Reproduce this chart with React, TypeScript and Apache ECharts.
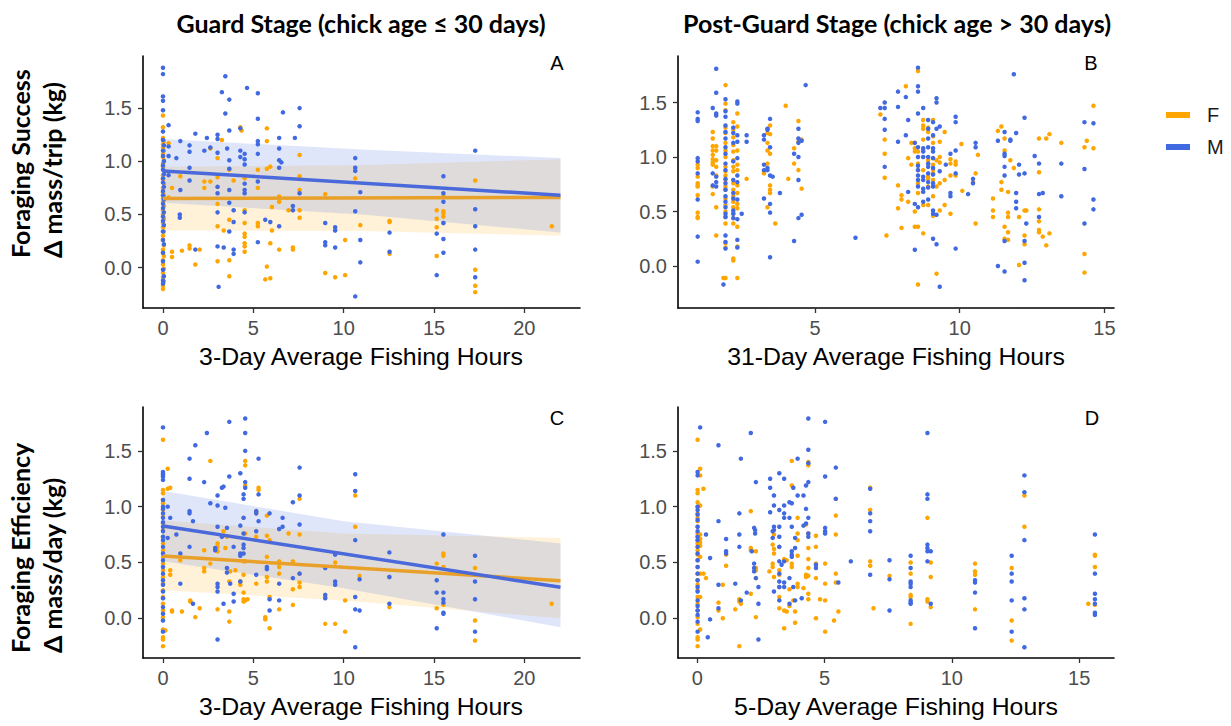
import React, { useEffect, useRef } from "react";
import * as echarts from "echarts";

// ---------- tick values ----------
const xTicksGuard = [0, 5, 10, 15, 20];
const xTicksB = [5, 10, 15];
const xTicksD = [0, 5, 10, 15];
const yTicks = [0, 0.5, 1.0, 1.5];

// ---------- Panel A: Foraging success vs 3-day fishing hours (guard) ----------
const A_M = [
  [0,1.88],[0,1.82],[0,1.61],[0,1.57],[0,1.48],[0,1.28],[0,1.20],[0.05,1.15],[0,1.10],[0,1.05],[0.05,1.00],[0,0.96],[0,0.92],[0.05,0.88],[0,0.84],[0,0.80],[0.05,0.76],[0,0.72],[0,0.68],[0.05,0.64],[0,0.60],[0,0.56],[0.05,0.52],[0,0.48],[0,0.44],[0.05,0.40],[0,0.34],[0,0.26],[0.05,0.22],[0,0.14],[0,0.06],[0,-0.02],[0.05,-0.08],[0,-0.12],[0,-0.15],
  [0.31,1.34],[0.31,1.14],[0.31,1.05],[0.31,0.87],[0.74,1.03],[0.96,1.19],[0.96,0.73],[0.93,0.5],[0.93,0.47],
  [1.47,1.15],[1.47,1.09],[1.47,0.94],[1.47,0.82],[1.79,1.26],[1.79,0.17],[2.29,1.1],[2.43,1.22],[2.62,1.13],[3.08,-0.18],
  [3.02,1.25],[3.02,1.21],[3.02,1.08],[3.02,0.76],[3.02,0.70],[3.02,0.52],[3.02,0.2],[3.26,1.65],[3.36,0.19],[3.45,1.8],[3.45,1.45],[3.55,1.12],
  [3.67,1.58],[3.67,1.29],[3.67,1.01],[3.67,0.93],[3.67,0.73],[3.67,0.61],[3.67,0.34],[3.91,0.54],[3.91,0.43],[3.91,0.17],[3.91,0.13],
  [4.28,1.31],[4.28,1.1],[4.28,1.04],[4.52,1.07],[4.52,1.02],[4.52,0.97],[4.52,0.79],[4.52,0.73],[4.52,0.7],[4.52,0.52],[4.65,1.69],
  [5.25,1.64],[5.25,1.4],[5.25,1.19],[5.25,1.16],[5.25,1.07],[5.25,0.81],[5.25,0.24],[5.66,0.45],[5.94,0.43],
  [6.43,1.22],[6.43,1.12],[6.43,1.01],[6.43,0.94],[6.43,0.39],[6.55,0.99],[6.64,1.46],[7.19,0.58],[7.19,0.54],[7.3,1.22],
  [7.56,1.5],[7.56,1.33],[7.56,0.7],[8.98,0.42],[8.98,0.24],[8.98,0.21],[9.53,0.38],[9.53,0.35],[9.53,0.19],
  [10.64,1.03],[10.64,0.94],[10.64,0.91],[10.64,0.53],[10.64,-0.27],[10.92,0.71],[10.92,0.26],[10.92,0.05],
  [12.54,0.33],[12.54,0.15],[15.15,0.32],[15.15,-0.07],[15.52,0.86],[15.52,0.7],[15.52,0.62],[15.52,0.42],[15.52,0.27],[15.52,0.14],
  [17.28,1.1],[17.28,0.55],[17.28,0.39],[17.28,0.17],[17.28,-0.09],
];
const A_F = [
  [0,1.43],[0,1.32],[0,1.22],[0.05,1.19],[0,1.16],[0,1.13],[0.05,1.10],[0,1.07],[0,1.04],[0.05,1.01],[0,0.98],[0,0.95],[0.05,0.91],[0,0.87],[0,0.83],[0.05,0.79],[0,0.75],[0,0.71],[0.05,0.68],[0,0.65],[0,0.62],[0.05,0.58],[0,0.54],[0,0.50],[0.05,0.46],[0,0.42],[0,0.38],[0.05,0.34],[0,0.30],[0,0.26],[0.05,0.21],[0,0.17],[0,0.14],[0.05,0.11],[0,0.07],[0,0.03],[0.05,-0.01],[0,-0.05],[0,-0.09],[0.05,-0.13],[0,-0.17],[0,-0.20],
  [0.31,1.17],[0.31,0.66],[0.5,0.75],[0.5,0.15],[0.5,0.1],[0.96,0.86],[1.05,0.16],[1.47,0.21],[1.47,0.18],[1.79,0.03],[2.03,0.17],
  [2.29,0.81],[2.29,0.75],[2.62,0.81],[2.62,1.12],[3.02,1.03],[3.02,0.85],[3.02,0.76],[3.02,0.6],[3.02,0.39],[3.02,0.06],[3.26,1.2],[3.36,0.35],
  [3.67,0.92],[3.67,0.45],[3.67,0.07],[3.67,-0.08],[3.91,0.82],[4.28,1.32],[4.35,1.29],
  [4.52,0.84],[4.52,0.54],[4.52,0.42],[4.52,0.32],[4.52,0.29],[4.52,0.23],[4.52,0.2],[4.52,0.15],
  [5.25,0.92],[5.25,0.75],[5.25,0.42],[5.25,0.39],[5.66,-0.11],[5.75,1.31],[5.75,1.19],[5.75,0.93],[5.75,0.01],
  [5.94,0.95],[5.94,0.23],[5.94,-0.1],[6.03,0.57],[6.03,0.35],[6.43,0.67],[6.43,0.62],[6.43,0.17],[6.95,0.54],[7.19,0.19],[7.19,0.17],
  [7.56,1.06],[7.56,0.86],[7.56,0.73],[7.56,0.54],[7.56,0.47],[8.98,0.69],[8.98,-0.05],[9.53,-0.09],[10.08,0.26],[10.08,-0.07],
  [10.64,0.84],[10.92,0.4],[12.54,0.44],[12.54,0.43],[12.54,0.13],[15.15,0.54],[15.15,0.46],[15.15,0.38],[15.15,0.11],
  [15.52,0.67],[15.52,0.53],[15.52,0.51],[15.52,0.48],[15.52,0.42],[17.28,0.82],[17.28,-0.02],[17.28,-0.17],[17.28,-0.23],[21.52,0.39],
];

// ---------- Panel B: Foraging success vs 31-day fishing hours (post-guard) ----------
const B_M = [
  [0.95,1.41],[0.95,1.35],[0.95,1.33],[0.95,0.99],[0.95,0.96],[0.95,0.85],[0.95,0.61],[0.95,0.27],[0.95,0.04],
  [1.47,1.45],[1.47,0.85],[1.47,0.74],[1.59,1.81],[1.59,1.59],[1.59,1.4],[1.59,1.38],[1.59,0.82],[1.59,0.77],[1.59,0.73],[1.84,-0.17],
  [1.91,1.53],[1.91,1.42],[1.91,1.37],[1.91,1.29],[1.91,1.23],[1.91,1.17],[1.91,1.09],[1.91,1.03],[1.91,0.94],[1.91,0.88],[1.91,0.8],[1.91,0.76],[1.91,0.7],[1.91,0.64],[1.91,0.59],[1.91,0.54],[1.91,0.48],[1.91,0.45],[1.91,0.28],[1.91,0.22],[1.91,0.16],
  [2.18,1.27],[2.18,1.22],[2.18,1.13],[2.18,0.96],[2.18,0.79],[2.18,0.67],[2.18,0.62],[2.18,0.51],[2.18,0.48],[2.18,0.44],
  [2.32,1.51],[2.32,1.49],[2.32,1.2],[2.32,1.14],[2.32,0.99],[2.32,0.83],[2.32,0.77],[2.32,0.61],[2.32,0.43],[2.32,0.24],[2.32,0.17],
  [2.47,0.48],[2.64,1.2],[2.64,1.14],[3.24,1.2],[3.24,1.16],[3.24,0.93],[3.24,0.88],[3.24,0.62],[3.36,1.26],[3.36,1.25],[3.36,0.9],[3.36,0.88],
  [3.45,1.35],[3.45,1.09],[3.45,0.83],[3.45,0.57],[3.45,0.49],[3.45,0.08],[3.54,0.82],[3.79,0.67],[4.28,0.23],[4.28,1.03],
  [4.43,1.26],[4.43,1.17],[4.43,1.13],[4.43,1.0],[4.43,0.79],[4.43,0.44],[4.54,0.47],[4.54,1.15],[4.68,1.66],[6.4,0.26],
  [7.26,1.45],[7.41,1.5],[7.41,1.45],[7.41,1.35],[7.41,1.25],[7.41,0.91],[7.87,1.6],[7.87,1.46],[7.87,1.14],[8.14,1.55],[8.14,1.2],
  [8.22,1.34],[8.22,0.68],[8.45,1.13],[8.45,0.57],[8.45,0.15],
  [8.56,1.82],[8.56,1.65],[8.56,1.6],[8.56,1.4],[8.56,1.09],[8.56,1.0],[8.56,0.92],[8.56,0.88],[8.56,0.83],[8.56,0.79],[8.56,0.73],[8.56,0.54],
  [8.74,1.45],[8.74,1.08],[8.74,1.05],[8.74,1.0],[8.74,0.82],[8.74,0.79],[8.74,0.71],[8.74,0.68],[8.74,0.59],
  [8.91,1.34],[8.91,1.26],[8.91,1.17],[8.91,1.09],[8.91,1.0],[8.91,0.94],[8.91,0.91],[8.91,0.85],[8.91,0.77],[8.91,0.72],[8.91,0.61],
  [9.08,1.32],[9.08,1.2],[9.08,1.08],[9.08,1.05],[9.08,0.99],[9.08,0.9],[9.08,0.84],[9.08,0.76],[9.08,0.73],[9.08,0.51],[9.08,0.48],[9.08,0.25],
  [9.2,1.54],[9.2,1.5],[9.2,1.26],[9.2,0.47],[9.2,0.2],[9.31,1.28],[9.31,0.87],[9.31,-0.19],[9.52,0.93],[9.68,1.03],[9.68,0.67],[9.68,0.64],
  [9.86,1.37],[9.86,1.32],[9.86,1.06],[9.86,0.85],[9.86,0.16],[10.29,0.66],[10.46,0.8],[10.46,0.76],[10.55,1.13],[10.55,1.09],
  [11.32,0.0],[11.32,1.15],[11.55,1.23],[11.55,1.03],[11.55,1.01],[11.55,0.91],[11.55,0.83],[11.55,0.23],[11.55,-0.05],
  [11.75,1.16],[11.75,1.15],[11.87,1.76],[11.95,1.22],[11.95,0.67],[11.95,0.59],[11.95,0.53],[12.05,0.93],[12.05,0.84],
  [12.24,1.36],[12.24,0.85],[12.24,0.23],[12.24,0.03],[12.24,-0.13],[12.3,0.39],[12.59,1.01],[12.74,0.94],[12.74,0.66],[12.74,0.45],[12.87,0.67],
  [13.51,0.94],[13.51,0.64],[14.31,1.32],[14.31,0.89],[14.31,0.39],[14.62,1.31],[14.62,0.61],[14.62,0.52],
];
const B_F = [
  [0.95,0.93],[0.95,0.9],[0.95,0.82],[0.95,0.76],[0.95,0.74],[0.95,0.73],[0.95,0.65],[0.95,0.49],[0.95,0.45],[0.95,0.44],
  [1.47,1.23],[1.47,1.17],[1.47,1.1],[1.47,1.06],[1.47,1.02],[1.47,0.98],[1.47,0.95],[1.47,0.93],[1.47,0.73],[1.47,0.66],
  [1.59,1.1],[1.59,1.06],[1.59,0.97],[1.59,0.91],[1.59,0.83],[1.59,0.54],[1.59,0.28],[1.84,-0.11],
  [1.91,1.66],[1.91,1.49],[1.91,1.43],[1.91,1.27],[1.91,1.22],[1.91,1.13],[1.91,1.06],[1.91,1.0],[1.91,0.91],[1.91,0.87],[1.91,0.83],[1.91,0.79],[1.91,0.73],[1.91,0.7],[1.91,0.62],[1.91,0.56],[1.91,0.5],[1.91,0.45],[1.91,0.39],[1.91,0.21],[1.91,0.17],[1.91,-0.11],
  [2.18,1.32],[2.18,1.25],[2.18,1.18],[2.18,1.11],[2.18,1.05],[2.18,0.97],[2.18,0.91],[2.18,0.87],[2.18,0.76],[2.18,0.7],[2.18,0.64],[2.18,0.59],[2.18,0.54],[2.18,0.48],[2.18,0.44],[2.18,0.39],[2.18,0.07],[2.18,0.05],
  [2.32,1.4],[2.32,1.28],[2.32,1.06],[2.32,0.93],[2.32,0.88],[2.32,0.74],[2.32,0.67],[2.32,0.57],[2.32,0.53],[2.32,0.36],[2.32,0.18],[2.32,-0.11],
  [2.64,0.8],[3.24,0.87],[3.24,0.85],[3.36,1.22],[3.36,1.13],[3.36,1.06],[3.36,0.94],[3.36,0.54],
  [3.45,1.29],[3.45,1.21],[3.45,1.03],[3.45,0.74],[3.45,0.7],[3.45,0.67],[3.63,0.39],[3.99,1.47],[4.08,0.8],[4.28,1.08],[4.28,0.94],
  [4.43,1.33],[4.43,1.14],[4.43,0.88],[4.54,1.16],[4.54,0.71],[7.26,1.39],[7.41,1.16],[7.41,1.03],[7.41,0.81],[7.47,0.28],
  [7.87,0.74],[7.87,0.53],[7.99,0.65],[7.99,0.61],[7.99,0.35],[8.14,1.65],[8.22,0.99],[8.22,0.59],[8.33,1.13],[8.33,0.93],
  [8.45,1.13],[8.45,1.08],[8.45,1.05],[8.45,0.5],[8.45,0.36],[8.56,1.79],[8.56,1.05],[8.56,0.94],[8.56,0.88],[8.56,0.76],[8.56,0.67],[8.56,0.36],[8.56,-0.17],
  [8.74,1.34],[8.74,1.29],[8.74,1.26],[8.74,1.16],[8.74,1.06],[8.74,0.88],[8.74,0.56],[8.74,0.3],
  [8.91,1.27],[8.91,1.23],[8.91,0.97],[8.91,0.94],[8.91,0.82],[8.91,0.8],[8.91,0.73],[8.91,0.56],
  [9.08,1.34],[9.08,1.19],[9.08,1.13],[9.08,0.99],[9.08,0.93],[9.08,0.88],[9.08,0.85],[9.08,0.79],[9.08,0.64],[9.08,0.46],
  [9.2,0.97],[9.2,0.73],[9.2,-0.07],[9.31,1.14],[9.31,1.0],[9.31,0.95],[9.31,0.76],[9.31,0.51],[9.48,1.23],[9.48,0.79],[9.48,0.56],
  [9.68,0.98],[9.68,0.94],[9.68,0.83],[9.68,0.48],[9.86,0.96],[9.86,0.93],[9.86,0.83],[10.06,1.12],[10.09,0.69],[10.46,0.77],
  [10.55,0.85],[10.55,0.39],[10.63,1.02],[11.15,0.62],[11.15,0.51],[11.15,0.45],[11.32,1.24],[11.44,1.28],[11.44,0.77],[11.44,0.7],
  [11.55,1.17],[11.55,1.06],[11.55,0.36],[11.55,0.25],[11.67,0.68],[11.67,0.49],[11.67,0.45],[11.67,0.31],[11.67,0.24],[11.75,0.97],[11.87,0.9],
  [12.05,0.45],[12.05,0.01],[12.24,0.51],[12.24,0.28],[12.24,0.2],[12.3,0.51],
  [12.74,1.17],[12.74,0.86],[12.74,0.52],[12.74,0.41],[12.74,0.33],[12.74,0.31],[12.87,0.27],[12.99,1.17],[12.99,0.19],[13.1,1.21],[13.1,0.3],
  [13.51,1.13],[14.31,1.09],[14.31,0.11],[14.31,-0.06],[14.39,1.15],[14.62,1.47],[14.62,1.08],
];

// ---------- Panel C: Foraging efficiency vs 3-day fishing hours (guard) ----------
const C_M = [
  [0,1.71],[0,1.31],[0,1.29],[0,1.27],[0,1.24],[0,1.06],[0,1.0],[0,0.98],[0,0.94],[0,0.9],[0,0.86],[0,0.82],[0,0.78],[0,0.73],[0,0.7],[0,0.64],[0,0.58],[0,0.52],[0,0.46],[0,0.4],[0,0.34],[0,0.3],[0,0.24],[0,0.18],[0,0.1],[0,0.04],[0,-0.02],[0,-0.12],
  [0.26,1.0],[0.26,0.72],[0.4,0.9],[0.74,0.75],[0.96,0.58],[0.96,0.31],[1.47,1.43],[1.47,1.25],[1.47,0.96],[1.47,0.94],[1.47,0.64],
  [1.66,0.87],[1.66,0.13],[1.79,1.55],[2.28,1.22],[2.43,1.66],[2.62,1.03],[2.89,0.63],[2.89,0.61],
  [3.02,1.1],[3.02,1.01],[3.02,0.82],[3.02,0.31],[3.02,0.28],[3.02,0.24],[3.02,-0.19],[3.26,1.17],[3.26,0.73],[3.35,1.18],[3.35,0.13],[3.45,0.99],
  [3.54,0.81],[3.54,0.45],[3.54,0.41],[3.67,1.76],[3.67,1.27],[3.72,0.31],[3.91,0.64],[3.91,0.22],[3.91,0.15],
  [4.28,1.3],[4.28,0.83],[4.28,0.58],[4.28,0.56],[4.28,0.33],[4.46,1.11],[4.46,1.07],[4.46,0.9],[4.46,0.76],[4.46,0.66],[4.46,0.63],[4.46,0.58],
  [4.55,1.79],[4.55,1.66],[4.55,1.5],[4.55,1.22],[4.55,1.17],[5.16,0.96],[5.16,0.94],[5.16,0.78],[5.16,0.39],[5.29,1.43],[5.29,1.11],[5.29,0.87],
  [5.75,0.46],[5.75,0.44],[5.9,0.94],[5.9,0.17],[5.9,0.07],[6.43,0.8],[6.43,0.31],[6.43,0.16],[6.62,0.9],[6.62,0.82],[7.19,1.04],[7.19,0.36],
  [7.56,1.35],[7.56,1.1],[7.56,0.84],[7.56,0.4],[8.98,0.45],[8.98,0.21],[8.98,0.18],[9.53,0.57],[9.53,0.33],[9.53,0.3],
  [10.64,1.29],[10.64,1.14],[10.64,0.7],[10.64,0.19],[10.64,0.08],[10.64,-0.26],[10.88,0.35],[10.88,0.07],[12.53,0.59],[12.53,0.37],[12.53,0.13],
  [15.15,0.34],[15.15,0.23],[15.15,-0.09],[15.52,0.75],[15.52,0.23],[15.52,0.17],[15.52,0.14],[15.52,0.05],[15.52,0.04],
  [17.27,0.56],[17.27,0.33],[17.27,0.17],[17.27,-0.12],
];
const C_F = [
  [0,1.6],[0,1.15],[0,1.12],[0,1.06],[0,1.03],[0,0.97],[0,0.91],[0,0.85],[0,0.79],[0,0.73],[0,0.67],[0,0.61],[0,0.55],[0,0.49],[0,0.43],[0,0.37],[0,0.31],[0,0.25],[0,0.19],[0,0.13],[0,0.07],[0,0.01],[0,-0.1],[0,-0.17],[0,-0.19],[0,-0.25],
  [0.13,-0.11],[0.26,1.34],[0.26,1.16],[0.4,1.17],[0.4,0.43],[0.4,0.39],[0.5,0.07],[0.5,0.06],[0.96,0.52],[1.05,0.06],[1.51,0.16],[1.51,0.15],
  [1.79,0.01],[2.03,0.09],[2.28,0.61],[2.28,0.45],[2.28,0.42],[2.62,1.41],[2.62,0.49],[3.02,0.67],[3.02,0.64],[3.02,0.6],[3.02,0.08],
  [3.35,0.78],[3.45,0.63],[3.54,0.73],[3.67,0.33],[3.67,0.06],[3.67,-0.03],[3.72,0.42],[4.0,0.43],[4.28,0.33],[4.28,0.3],
  [4.46,0.9],[4.46,0.51],[4.46,0.39],[4.46,0.23],[4.46,0.17],[4.46,0.15],[4.55,1.41],[4.55,1.37],[4.55,1.19],[4.55,0.76],[4.55,0.51],[4.55,0.16],[4.68,0.17],
  [5.16,0.96],[5.16,0.94],[5.16,0.73],[5.16,0.31],[5.29,1.17],[5.29,1.15],[5.66,-0.01],[5.66,0.01],
  [5.75,0.92],[5.75,0.74],[5.75,0.55],[5.75,0.37],[5.75,0.33],[5.9,0.7],[5.9,0.19],[5.9,-0.09],[6.43,0.51],[6.43,0.46],[6.43,0.4],[6.43,0.08],
  [6.95,0.76],[7.19,0.51],[7.19,0.26],[7.19,0.12],[7.56,1.07],[7.56,0.75],[7.56,0.4],[7.56,0.32],[7.56,0.28],[8.98,0.19],[8.98,-0.05],
  [9.53,0.5],[9.53,-0.05],[10.08,0.16],[10.08,-0.12],[10.64,1.1],[10.64,0.82],[10.88,0.38],[12.53,0.37],[12.53,0.1],
  [15.15,0.49],[15.15,0.09],[15.52,0.58],[15.52,0.56],[15.52,0.46],[15.52,0.12],[17.27,0.45],[17.27,-0.02],[17.27,-0.2],[21.51,0.13],
];

// ---------- Panel D: Foraging efficiency vs 5-day fishing hours (post-guard) ----------
const D_M = [
  [0.01,1.31],[0.01,1.28],[0.01,1.0],[0.01,0.97],[0.01,0.93],[0.01,0.88],[0.01,0.82],[0.01,0.78],[0.01,0.73],[0.01,0.7],[0.01,0.64],[0.01,0.58],[0.01,0.52],[0.01,0.46],[0.01,0.4],[0.01,0.34],[0.01,0.28],[0.01,0.24],[0.01,0.16],[0.01,0.11],[0.01,0.07],[0.01,0.03],[0.01,-0.03],[0.01,-0.12],
  [0.11,1.71],[0.34,0.75],[0.41,-0.17],[0.5,0.54],[0.5,-0.01],[0.83,1.55],[0.83,0.87],[0.83,0.3],[0.83,0.09],[1.13,0.71],[1.13,0.6],[1.13,0.58],
  [1.49,0.31],[1.65,0.94],[1.65,0.75],[1.65,0.64],[1.71,1.43],[1.71,0.16],[1.94,0.23],[2.1,1.66],[2.14,0.6],
  [2.23,0.81],[2.23,0.49],[2.23,0.45],[2.23,0.42],[2.27,0.79],[2.27,0.76],[2.3,1.22],[2.3,0.36],[2.4,0.28],[2.4,0.13],[2.4,-0.19],
  [2.86,1.25],[2.86,1.17],[2.86,0.95],[2.96,0.78],[2.96,0.72],[3.01,1.1],[3.01,1.01],[3.01,0.82],[3.01,0.79],[3.01,0.24],
  [3.22,1.3],[3.22,0.97],[3.22,0.82],[3.22,0.73],[3.22,0.64],[3.22,0.51],[3.22,0.4],[3.22,0.33],[3.22,0.28],[3.22,0.16],[3.31,0.48],
  [3.41,1.25],[3.41,1.01],[3.41,0.94],[3.41,0.9],[3.41,0.51],[3.41,0.32],[3.41,0.28],[3.62,1.04],[3.62,0.9],[3.62,0.36],[3.62,0.13],
  [3.71,1.03],[3.71,0.82],[3.71,0.6],[3.71,0.57],[3.71,0.55],[3.77,1.17],[3.77,0.28],[3.84,0.72],[3.84,0.63],[3.84,0.16],[3.94,1.43],[3.94,1.1],
  [4.1,0.18],[4.17,1.1],[4.17,0.83],[4.27,1.19],[4.27,0.98],[4.27,0.85],[4.36,1.79],[4.36,1.51],[4.36,1.39],[4.36,1.22],[4.36,0.9],[4.36,0.76],[4.36,0.73],
  [4.66,0.48],[4.66,0.45],[5.02,1.76],[5.02,1.27],[5.02,0.81],[5.02,0.78],[5.02,0.76],[5.44,1.35],[5.44,1.07],[5.54,0.32],[6.03,0.51],
  [6.79,1.16],[6.79,0.94],[6.79,0.87],[6.79,0.78],[6.79,0.39],[7.55,0.52],[7.55,0.35],[7.55,0.07],
  [8.38,0.56],[8.38,0.45],[8.38,0.33],[8.38,0.31],[8.38,0.28],[8.38,0.16],[8.38,0.14],[8.38,0.13],
  [9.04,1.66],[9.04,1.11],[9.04,1.07],[9.04,0.66],[9.04,0.63],[9.04,0.6],[9.04,0.51],[9.17,0.6],[9.17,0.13],
  [10.91,0.34],[10.91,0.32],[10.91,0.23],[10.91,-0.09],[12.35,0.56],[12.35,0.4],[12.35,0.33],[12.35,0.16],[12.35,-0.12],
  [12.85,1.28],[12.85,1.13],[12.85,0.7],[12.85,0.18],[12.85,0.08],[12.85,-0.26],
  [15.62,0.75],[15.62,0.4],[15.62,0.22],[15.62,0.17],[15.62,0.13],[15.62,0.05],[15.62,0.03],
];
const D_F = [
  [0.01,1.6],[0.01,1.15],[0.01,1.12],[0.01,1.04],[0.01,1.0],[0.01,0.94],[0.01,0.9],[0.01,0.87],[0.01,0.82],[0.01,0.76],[0.01,0.73],[0.01,0.7],[0.01,0.67],[0.01,0.64],[0.01,0.61],[0.01,0.57],[0.01,0.52],[0.01,0.46],[0.01,0.4],[0.01,0.34],[0.01,0.3],[0.01,0.25],[0.01,0.19],[0.01,0.13],[0.01,0.07],[0.01,0.01],[0.01,-0.05],[0.01,-0.17],[0.01,-0.19],[0.01,-0.25],
  [0.11,1.34],[0.11,1.28],[0.11,1.01],[0.11,0.75],[0.11,0.71],[0.11,0.68],[0.11,0.65],[0.11,0.55],[0.11,0.4],[0.11,0.19],[0.11,-0.1],
  [0.24,1.16],[0.24,0.4],[0.34,0.36],[0.83,0.14],[0.83,0.07],[1.0,0.3],[1.0,0.0],[1.13,0.57],[1.13,0.47],[1.49,0.08],
  [1.65,0.17],[1.65,0.15],[1.65,-0.25],[1.71,0.13],[2.1,0.96],[2.1,0.63],[2.1,0.61],[2.1,0.22],[2.3,0.6],[2.3,0.45],[2.3,0.43],[2.3,0.36],[2.3,0.01],
  [2.83,0.42],[2.96,0.66],[2.96,0.49],[2.96,0.46],[3.01,0.75],[3.01,0.62],[3.01,0.58],[3.01,0.37],
  [3.22,0.64],[3.22,0.43],[3.22,0.39],[3.22,0.28],[3.22,0.19],[3.22,0.09],[3.41,0.53],[3.41,0.07],[3.41,-0.09],[3.51,0.52],[3.51,0.06],[3.62,0.26],[3.62,0.11],
  [3.71,1.41],[3.71,1.19],[3.71,0.49],[3.71,0.46],[3.77,0.16],[3.84,0.06],[3.84,-0.04],[3.94,0.9],[3.94,0.76],[3.94,0.7],[3.94,0.56],[3.94,0.31],[3.94,0.28],
  [4.17,0.27],[4.27,0.84],[4.27,0.39],[4.27,0.37],[4.36,1.4],[4.36,1.37],[4.36,0.76],[4.36,0.63],[4.36,0.53],[4.36,0.45],[4.36,0.38],[4.36,0.22],[4.36,0.17],
  [4.66,0.74],[4.66,0.64],[4.66,0.49],[4.66,0.36],[4.66,0.0],[4.82,0.17],[5.02,0.49],[5.02,0.31],[5.02,0.16],[5.02,-0.12],[5.37,-0.02],
  [5.44,1.07],[5.44,0.92],[5.44,0.75],[5.44,0.4],[5.44,0.32],[5.54,0.06],[6.79,1.17],[6.79,0.97],[6.79,0.51],[6.79,0.47],[6.92,0.09],[7.55,0.38],
  [8.38,0.5],[8.38,0.4],[8.38,0.21],[8.38,0.19],[8.38,-0.05],[9.04,0.9],[9.04,0.17],[9.04,0.15],[9.17,0.5],[9.17,0.37],[9.17,0.1],
  [10.91,0.49],[10.91,0.42],[10.91,0.39],[10.91,0.08],[12.35,0.45],[12.35,-0.02],[12.35,-0.2],[12.85,1.1],[12.85,0.82],
  [15.36,0.13],[15.62,0.57],[15.62,0.56],[15.62,0.46],[15.62,0.12],
];

// ---------- fitted lines and confidence bands (guard stage panels) ----------
const A_F_fit = [[0, 0.65], [22, 0.66]];
const A_M_fit = [[0, 0.91], [22, 0.68]];
const A_bandX = [0, 11, 22];
const A_F_lo = [0.35, 0.345, 0.30];
const A_F_hi = [0.95, 0.965, 1.02];
const A_M_lo = [0.61, 0.50, 0.33];
const A_M_hi = [1.21, 1.11, 1.03];

const C_F_fit = [[0, 0.558], [22, 0.337]];
const C_M_fit = [[0, 0.827], [22, 0.278]];
const C_bandX = [0, 10, 22];
const C_F_lo = [0.25, 0.16, 0.0];
const C_F_hi = [0.875, 0.76, 0.72];
const C_M_lo = [0.51, 0.27, -0.08];
const C_M_hi = [1.14, 0.87, 0.67];

const ORANGE = "#FFA500";
const BLUE = "#4169E1";
const ORANGE_LINE = "#E9A029";
const BLUE_LINE = "#4A69DA";
const TICK_FONT = "'Liberation Sans', Arial, sans-serif";
const TITLE_FONT = "Lato, 'Open Sans', 'Noto Sans', sans-serif";

export default function App() {
  const ref = useRef<HTMLDivElement>(null);
  useEffect(() => {
    if (!ref.current) return;
    const chart = echarts.init(ref.current, undefined, { renderer: "svg" });

    const panels = [
      { grid: { left: 143, top: 56, width: 437, height: 252 }, xMin: -1.106, xMax: 23.08, xT: xTicksGuard, yMin: -0.379, yMax: 1.99 },
      { grid: { left: 678, top: 56, width: 436, height: 252 }, xMin: 0.27, xMax: 15.33, xT: xTicksB, yMin: -0.385, yMax: 1.927 },
      { grid: { left: 143, top: 407, width: 437, height: 251 }, xMin: -1.106, xMax: 23.08, xT: xTicksGuard, yMin: -0.356, yMax: 1.893 },
      { grid: { left: 678, top: 407, width: 436, height: 251 }, xMin: -0.76, xMax: 16.37, xT: xTicksD, yMin: -0.356, yMax: 1.893 },
    ];

    const axisLine = { show: true, onZero: false, lineStyle: { color: "#000", width: 1.6 } };
    const labelStyle = { color: "#4D4D4D", fontSize: 20, fontFamily: TICK_FONT };

    const xAxis = panels.map((p, i) => ({
      type: "value", gridIndex: i, min: p.xMin, max: p.xMax,
      axisLine, splitLine: { show: false },
      axisTick: { show: true, length: 5, lineStyle: { color: "#333", width: 1.3 }, customValues: p.xT },
      axisLabel: { ...labelStyle, margin: 10, customValues: p.xT, formatter: (v: number) => String(v) },
    }));
    const yAxis = panels.map((p, i) => ({
      type: "value", gridIndex: i, min: p.yMin, max: p.yMax,
      axisLine, splitLine: { show: false },
      axisTick: { show: true, length: 5, lineStyle: { color: "#333", width: 1.3 }, customValues: yTicks },
      axisLabel: { ...labelStyle, margin: 11, customValues: yTicks, formatter: (v: number) => v.toFixed(1) },
    }));

    const scatter = (name: string, data: number[][], idx: number, color: string) => ({
      type: "scatter", name, data, xAxisIndex: idx, yAxisIndex: idx,
      symbolSize: 4.5, itemStyle: { color, opacity: 1 }, silent: true, z: 3,
    });
    const band = (name: string, xs: number[], lo: number[], hi: number[], idx: number, fill: string) => ({
      type: "custom", name, xAxisIndex: idx, yAxisIndex: idx, silent: true, z: 2,
      data: [[xs[0], lo[0]]],
      renderItem: (_params: any, api: any) => {
        const pts: number[][] = [];
        xs.forEach((x, k) => pts.push(api.coord([x, hi[k]])));
        for (let k = xs.length - 1; k >= 0; k--) pts.push(api.coord([xs[k], lo[k]]));
        return { type: "polygon", shape: { points: pts }, style: { fill } };
      },
    });
    const fit = (name: string, data: number[][], idx: number, color: string) => ({
      type: "line", name, data, xAxisIndex: idx, yAxisIndex: idx, showSymbol: false, silent: true, z: 4,
      lineStyle: { color, width: 3.5 }, itemStyle: { color },
    });

    const series: any[] = [
      scatter("F", A_F, 0, ORANGE), scatter("M", A_M, 0, BLUE),
      scatter("F", B_F, 1, ORANGE), scatter("M", B_M, 1, BLUE),
      scatter("F", C_F, 2, ORANGE), scatter("M", C_M, 2, BLUE),
      scatter("F", D_F, 3, ORANGE), scatter("M", D_M, 3, BLUE),
      band("F band A", A_bandX, A_F_lo, A_F_hi, 0, "rgba(255,165,0,0.15)"),
      band("M band A", A_bandX, A_M_lo, A_M_hi, 0, "rgba(65,105,225,0.17)"),
      band("F band C", C_bandX, C_F_lo, C_F_hi, 2, "rgba(255,165,0,0.15)"),
      band("M band C", C_bandX, C_M_lo, C_M_hi, 2, "rgba(65,105,225,0.17)"),
      fit("F fit A", A_F_fit, 0, ORANGE_LINE), fit("M fit A", A_M_fit, 0, BLUE_LINE),
      fit("F fit C", C_F_fit, 2, ORANGE_LINE), fit("M fit C", C_M_fit, 2, BLUE_LINE),
    ];

    const titleStyle = { fontFamily: TITLE_FONT, fontWeight: "bold", fontSize: 25, fill: "#000" };
    const xTitleStyle = { fontFamily: TICK_FONT, fontSize: 23, fill: "#000", align: "center", verticalAlign: "middle" };
    const letterStyle = { fontFamily: TICK_FONT, fontSize: 20, fill: "#000", align: "center", verticalAlign: "middle" };

    const graphic: any[] = [
      { type: "text", x: 361, y: 23, style: { ...titleStyle, text: "Guard Stage (chick age ≤ 30 days)", align: "center", verticalAlign: "middle" } },
      { type: "text", x: 897, y: 23, style: { ...titleStyle, text: "Post-Guard Stage (chick age > 30 days)", align: "center", verticalAlign: "middle" } },
      { type: "text", x: 20, y: 258, rotation: Math.PI / 2, style: { ...titleStyle, text: "Foraging Success", align: "left", verticalAlign: "middle" } },
      { type: "text", x: 52, y: 258, rotation: Math.PI / 2, style: { ...titleStyle, text: "Δ mass/trip (kg)", align: "left", verticalAlign: "middle" } },
      { type: "text", x: 20, y: 653, rotation: Math.PI / 2, style: { ...titleStyle, text: "Foraging Efficiency", align: "left", verticalAlign: "middle" } },
      { type: "text", x: 52, y: 653, rotation: Math.PI / 2, style: { ...titleStyle, text: "Δ mass/day (kg)", align: "left", verticalAlign: "middle" } },
      { type: "text", x: 361, y: 357, scaleX: 1.08, style: { ...xTitleStyle, text: "3-Day Average Fishing Hours" } },
      { type: "text", x: 896, y: 357, scaleX: 1.08, style: { ...xTitleStyle, text: "31-Day Average Fishing Hours" } },
      { type: "text", x: 361, y: 707, scaleX: 1.08, style: { ...xTitleStyle, text: "3-Day Average Fishing Hours" } },
      { type: "text", x: 896, y: 707, scaleX: 1.08, style: { ...xTitleStyle, text: "5-Day Average Fishing Hours" } },
      { type: "text", x: 557, y: 63, style: { ...letterStyle, text: "A" } },
      { type: "text", x: 1091, y: 63, style: { ...letterStyle, text: "B" } },
      { type: "text", x: 557, y: 418, style: { ...letterStyle, text: "C" } },
      { type: "text", x: 1092, y: 418, style: { ...letterStyle, text: "D" } },
    ];

    chart.setOption({
      animation: false,
      backgroundColor: "#fff",
      grid: panels.map((p) => ({ ...p.grid, containLabel: false })),
      xAxis, yAxis, series, graphic,
      legend: {
        data: ["F", "M"], orient: "vertical", left: 1161, top: 100,
        itemWidth: 24, itemHeight: 6, icon: "rect", itemGap: 12, selectedMode: false,
        textStyle: { fontSize: 20, fontFamily: TICK_FONT, color: "#1a1a1a", lineHeight: 20, padding: [0, 0, 0, 12] },
      },
    });
    return () => chart.dispose();
  }, []);
  return <div ref={ref} style={{ position: "fixed", left: 0, top: 0, width: 1231, height: 726 }} />;
}
